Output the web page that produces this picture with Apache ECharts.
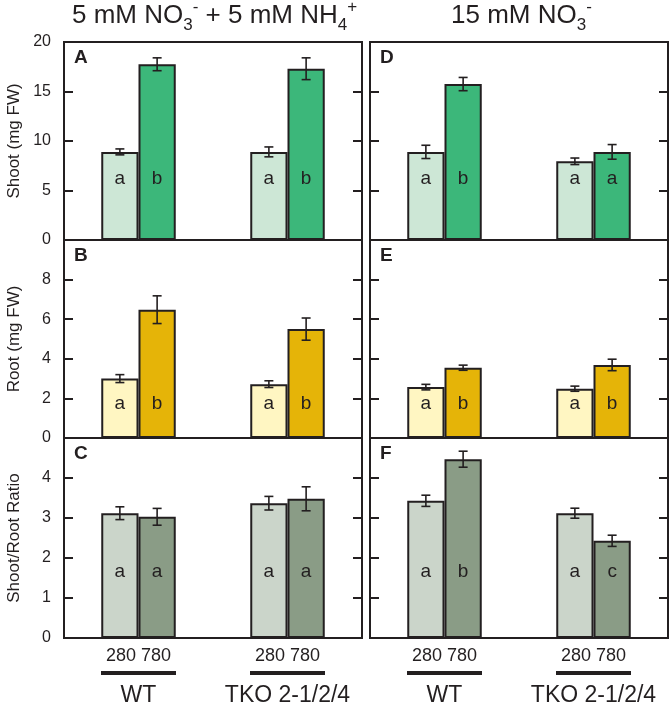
<!DOCTYPE html>
<html>
<head>
<meta charset="utf-8">
<script src="https://cdn.jsdelivr.net/npm/echarts@6/dist/echarts.min.js"></script>
<style>
html,body{margin:0;padding:0;background:#fff;}
#chart{width:670px;height:705px;}
</style>
</head>
<body>
<div id="chart"></div>
<script>
// ---- data ----
const groups = ['WT', 'TKO 2-1/2/4'];
const co2Levels = ['280', '780'];

// 5 mM NO3- + 5 mM NH4+
const shootMix280 = [8.9, 8.9];
const shootMix280Err = [0.3, 0.5];
const shootMix780 = [17.75, 17.3];
const shootMix780Err = [0.65, 1.1];
const shootMix280Sig = ['a', 'a'];
const shootMix780Sig = ['b', 'b'];

const rootMix280 = [3.0, 2.72];
const rootMix280Err = [0.2, 0.17];
const rootMix780 = [6.48, 5.5];
const rootMix780Err = [0.7, 0.56];
const rootMix280Sig = ['a', 'a'];
const rootMix780Sig = ['b', 'b'];

const ratioMix280 = [3.12, 3.37];
const ratioMix280Err = [0.16, 0.17];
const ratioMix780 = [3.03, 3.48];
const ratioMix780Err = [0.21, 0.3];
const ratioMix280Sig = ['a', 'a'];
const ratioMix780Sig = ['a', 'a'];

// 15 mM NO3-
const shootNit280 = [8.9, 7.95];
const shootNit280Err = [0.67, 0.33];
const shootNit780 = [15.75, 8.9];
const shootNit780Err = [0.67, 0.74];
const shootNit280Sig = ['a', 'a'];
const shootNit780Sig = ['b', 'a'];

const rootNit280 = [2.57, 2.49];
const rootNit280Err = [0.14, 0.13];
const rootNit780 = [3.55, 3.69];
const rootNit780Err = [0.13, 0.29];
const rootNit280Sig = ['a', 'a'];
const rootNit780Sig = ['b', 'b'];

const ratioNit280 = [3.43, 3.12];
const ratioNit280Err = [0.14, 0.125];
const ratioNit780 = [4.47, 2.43];
const ratioNit780Err = [0.2, 0.14];
const ratioNit280Sig = ['a', 'a'];
const ratioNit780Sig = ['b', 'c'];

// ---- layout / style ----
const FONT = '"Liberation Sans", Arial, Helvetica, sans-serif';
const INK = '#231f20';
const colLeft = [64, 370];
const colWidth = 298;
const rowTop = [42, 240, 438];
const rowHeight = [198, 198, 200];

const rows = [
  { name: 'Shoot (mg FW)', max: 20, interval: 5, colors: ['#cde7d6', '#3cb77a'], letterOffset: 61, showMax: true },
  { name: 'Root (mg FW)', max: 10, interval: 2, colors: ['#fff6c2', '#e5b408'], letterOffset: 34, showMax: false },
  { name: 'Shoot/Root Ratio', max: 5, interval: 1, colors: ['#cbd5ca', '#8a9c86'], letterOffset: 66, showMax: false }
];
const panelData = [
  [
    { tag: 'A', v: [shootMix280, shootMix780], e: [shootMix280Err, shootMix780Err], s: [shootMix280Sig, shootMix780Sig] },
    { tag: 'B', v: [rootMix280, rootMix780], e: [rootMix280Err, rootMix780Err], s: [rootMix280Sig, rootMix780Sig] },
    { tag: 'C', v: [ratioMix280, ratioMix780], e: [ratioMix280Err, ratioMix780Err], s: [ratioMix280Sig, ratioMix780Sig] }
  ],
  [
    { tag: 'D', v: [shootNit280, shootNit780], e: [shootNit280Err, shootNit780Err], s: [shootNit280Sig, shootNit780Sig] },
    { tag: 'E', v: [rootNit280, rootNit780], e: [rootNit280Err, rootNit780Err], s: [rootNit280Sig, rootNit780Sig] },
    { tag: 'F', v: [ratioNit280, ratioNit780], e: [ratioNit280Err, ratioNit780Err], s: [ratioNit280Sig, ratioNit780Sig] }
  ]
];

const grid = [], xAxis = [], yAxis = [], series = [], title = [];

const headerStyle = {
  fontFamily: FONT, fontSize: 26, fontWeight: 'normal', color: INK, lineHeight: 36,
  rich: {
    sub: { fontFamily: FONT, fontSize: 17, color: INK, padding: [18, 0, 0, 0] },
    sup: { fontFamily: FONT, fontSize: 17, color: INK, padding: [0, 0, 18, 0] }
  }
};
title.push({ text: '5 mM NO{sub|3}{sup|-} + 5 mM NH{sub|4}{sup|+}', left: 72, top: -2, padding: 0, textStyle: headerStyle });
title.push({ text: '15 mM NO{sub|3}{sup|-}', left: 451, top: -2, padding: 0, textStyle: headerStyle });

let gi = 0;
for (let c = 0; c < 2; c++) {
  for (let r = 0; r < 3; r++) {
    const row = rows[r];
    const pd = panelData[c][r];
    const isBottom = r === 2;
    grid.push({
      left: colLeft[c], top: rowTop[r], width: colWidth, height: rowHeight[r],
      containLabel: false, outerBoundsMode: 'none',
      show: true, borderColor: INK, borderWidth: 2, backgroundColor: 'transparent'
    });
    xAxis.push({
      type: 'category', gridIndex: gi, data: groups,
      axisLine: { show: false }, axisTick: { show: false },
      axisLabel: isBottom ? {
        show: true, interval: 0, margin: 7,
        formatter: function (val) {
          return '{s|' + co2Levels.join(' ') + '}\n{u|}\n{g|' + val + '}';
        },
        rich: {
          s: { fontFamily: FONT, fontSize: 18, color: INK, lineHeight: 22 },
          u: { width: 75, height: 4, backgroundColor: INK, lineHeight: 12 },
          g: { fontFamily: FONT, fontSize: 23, color: INK, lineHeight: 34 }
        }
      } : { show: false }
    });
    const baseY = {
      type: 'value', gridIndex: gi, min: 0, max: row.max, interval: row.interval,
      splitLine: { show: false },
      axisLine: { show: false },
      axisTick: { show: true, inside: true, length: 9, lineStyle: { color: INK, width: 2 } }
    };
    yAxis.push(Object.assign({}, baseY, {
      position: 'left',
      name: c === 0 ? row.name : '',
      nameLocation: 'middle', nameGap: 41,
      nameTextStyle: { fontFamily: FONT, fontSize: 17, color: INK },
      axisLabel: {
        show: c === 0, fontFamily: FONT, fontSize: 16, color: INK, margin: 13,
        showMaxLabel: row.showMax
      }
    }));
    yAxis.push(Object.assign({}, baseY, { position: 'right', axisLabel: { show: false } }));
    const yLeft = yAxis.length - 2;

    for (let s = 0; s < 2; s++) {
      series.push({
        type: 'bar', name: co2Levels[s], xAxisIndex: gi, yAxisIndex: yLeft,
        data: pd.v[s], barWidth: '25%', barGap: '0%',
        itemStyle: { color: row.colors[s], borderColor: INK, borderWidth: 2 },
        silent: true, animation: false
      });
    }
    const items = [];
    for (let s = 0; s < 2; s++) {
      for (let k = 0; k < groups.length; k++) {
        items.push({ value: [k, s, pd.v[s][k], pd.e[s][k]], sig: pd.s[s][k] });
      }
    }
    const letterOffset = row.letterOffset;
    series.push({
      type: 'custom', xAxisIndex: gi, yAxisIndex: yLeft, z: 10, clip: false,
      animation: false, silent: true,
      data: items.map(d => d.value),
      renderItem: function (params, api) {
        const k = api.value(0), s = api.value(1), v = api.value(2), e = api.value(3);
        const band = api.size([1, 0])[0];
        const cx = api.coord([k, v])[0] + (s === 0 ? -1 : 1) * band * 0.125;
        const yt = api.coord([k, v + e])[1];
        const yb = api.coord([k, v - e])[1];
        const y0 = api.coord([k, 0])[1];
        const st = { stroke: INK, lineWidth: 1.6 };
        return {
          type: 'group',
          children: [
            { type: 'line', shape: { x1: cx, y1: yt, x2: cx, y2: yb }, style: st },
            { type: 'line', shape: { x1: cx - 4.5, y1: yt, x2: cx + 4.5, y2: yt }, style: st },
            { type: 'line', shape: { x1: cx - 4.5, y1: yb, x2: cx + 4.5, y2: yb }, style: st },
            { type: 'text', style: {
                text: items[params.dataIndex].sig, x: cx, y: y0 - letterOffset,
                align: 'center', verticalAlign: 'middle',
                font: '19px ' + FONT, fill: INK } }
          ]
        };
      }
    });
    title.push({
      text: pd.tag, left: colLeft[c] + 10, top: rowTop[r] + 6, padding: 0,
      textStyle: { fontFamily: FONT, fontSize: 19, fontWeight: 'bold', color: INK }
    });
    gi++;
  }
}

const chart = echarts.init(document.getElementById('chart'), null, { renderer: 'canvas' });
chart.setOption({
  animation: false,
  backgroundColor: '#fff',
  title: title,
  grid: grid,
  xAxis: xAxis,
  yAxis: yAxis,
  series: series
});
</script>
</body>
</html>
